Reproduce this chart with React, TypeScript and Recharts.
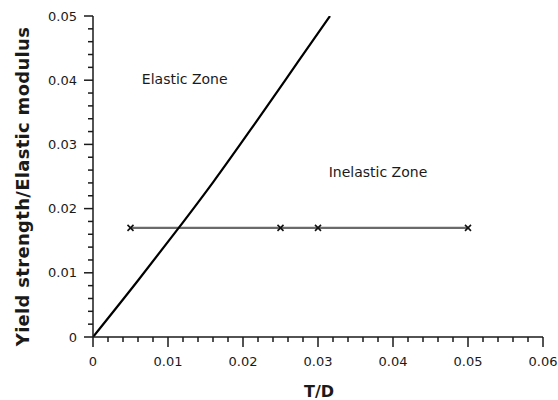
import React from "react";
import {
  LineChart,
  Line,
  XAxis,
  YAxis,
  ReferenceDot,
} from "recharts";

const FONT = "DejaVu Sans, Verdana, sans-serif";
const INK = "#1a1a1a";

// elastic limit curve
const elasticX = [0, 0.006, 0.0113, 0.016, 0.0218, 0.0273, 0.0316];
const elasticY = [0, 0.0088, 0.0168, 0.0241, 0.0336, 0.0428, 0.05];

// measured specimens, all at the same ratio
const specimenX = [0.005, 0.025, 0.03, 0.05];
const specimenY = [0.017, 0.017, 0.017, 0.017];

const xTicks = [
  0, 0.002, 0.004, 0.006, 0.008, 0.01, 0.012, 0.014, 0.016, 0.018, 0.02,
  0.022, 0.024, 0.026, 0.028, 0.03, 0.032, 0.034, 0.036, 0.038, 0.04, 0.042,
  0.044, 0.046, 0.048, 0.05, 0.052, 0.054, 0.056, 0.058, 0.06,
];
const xMajor = [0, 0.01, 0.02, 0.03, 0.04, 0.05, 0.06];

const yTicks = [
  0, 0.002, 0.004, 0.006, 0.008, 0.01, 0.012, 0.014, 0.016, 0.018, 0.02,
  0.022, 0.024, 0.026, 0.028, 0.03, 0.032, 0.034, 0.036, 0.038, 0.04, 0.042,
  0.044, 0.046, 0.048, 0.05,
];
const yMajor = [0, 0.01, 0.02, 0.03, 0.04, 0.05];

const elasticData = elasticX.map((x, i) => ({ x, y: elasticY[i] }));
const specimenData = specimenX.map((x, i) => ({ x, y: specimenY[i] }));

const isMajor = (v: number, majors: number[]) =>
  majors.some((m) => Math.abs(m - v) < 1e-9);

const fmt = (v: number) => (v === 0 ? "0" : String(v));

const XTick = (props: any) => {
  const { x, y, payload } = props;
  const major = isMajor(payload.value, xMajor);
  return (
    <g>
      <line
        x1={x}
        x2={x}
        y1={y}
        y2={y + (major ? 10 : 5)}
        stroke={INK}
        strokeWidth={1.5}
      />
      {major && (
        <text
          x={x}
          y={y + 29}
          textAnchor="middle"
          fontSize={13}
          fontFamily={FONT}
          fill={INK}
        >
          {fmt(payload.value)}
        </text>
      )}
    </g>
  );
};

const YTick = (props: any) => {
  const { x, y, payload } = props;
  const major = isMajor(payload.value, yMajor);
  return (
    <g>
      <line
        x1={x}
        x2={x - (major ? 9 : 5)}
        y1={y}
        y2={y}
        stroke={INK}
        strokeWidth={1.5}
      />
      {major && (
        <text
          x={x - 16}
          y={y + 4.5}
          textAnchor="end"
          fontSize={13}
          fontFamily={FONT}
          fill={INK}
        >
          {fmt(payload.value)}
        </text>
      )}
    </g>
  );
};

const Cross = (props: any) => {
  const { cx, cy } = props;
  if (cx == null || cy == null) return null;
  const s = 3;
  return (
    <path
      d={`M${cx - s},${cy - s}L${cx + s},${cy + s}M${cx - s},${cy + s}L${cx + s},${cy - s}`}
      stroke="#111"
      strokeWidth={1.6}
      fill="none"
    />
  );
};

export default function App() {
  return (
    <div style={{ position: "absolute", left: 0, top: 0, background: "#fff" }}>
      <LineChart
        width={558}
        height={400}
        margin={{ top: 16, right: 15, bottom: 0, left: 0 }}
      >
        <XAxis
          type="number"
          dataKey="x"
          domain={[0, 0.06]}
          ticks={xTicks}
          interval={0}
          tickSize={0}
          tickMargin={0}
          tickLine={false}
          tick={<XTick />}
          height={63}
          axisLine={{ stroke: INK, strokeWidth: 1.5 }}
          allowDataOverflow
          label={{
            content: (p: any) => {
              const vb = p.viewBox;
              return (
                <text
                  x={vb.x + vb.width / 2 + 1}
                  y={vb.y + 60}
                  textAnchor="middle"
                  fontSize={16}
                  fontWeight="bold"
                  fontFamily={FONT}
                  fill={INK}
                >
                  T/D
                </text>
              );
            },
          }}
        />
        <YAxis
          type="number"
          dataKey="y"
          domain={[0, 0.05]}
          ticks={yTicks}
          interval={0}
          tickSize={0}
          tickMargin={0}
          tickLine={false}
          tick={<YTick />}
          width={93}
          axisLine={{ stroke: INK, strokeWidth: 1.5 }}
          allowDataOverflow
          label={{
            content: (p: any) => {
              const vb = p.viewBox;
              const cx = vb.x + 22;
              const cy = vb.y + vb.height / 2 + 10;
              return (
                <text
                  x={cx}
                  y={cy}
                  transform={`rotate(-90 ${cx} ${cy})`}
                  textAnchor="middle"
                  dominantBaseline="central"
                  fontSize={18}
                  letterSpacing={0.3}
                  fontWeight="bold"
                  fontFamily={FONT}
                  fill={INK}
                >
                  Yield strength/Elastic modulus
                </text>
              );
            },
          }}
        />
        <ReferenceDot
          x={0.01223}
          y={0.0402}
          r={0}
          fill="none"
          stroke="none"
          label={{
            value: "Elastic Zone",
            position: "center",
            fontSize: 14,
            fontFamily: FONT,
            fill: INK,
          }}
        />
        <ReferenceDot
          x={0.038}
          y={0.0257}
          r={0}
          fill="none"
          stroke="none"
          label={{
            value: "Inelastic Zone",
            position: "center",
            fontSize: 14,
            fontFamily: FONT,
            fill: INK,
          }}
        />
        <Line
          data={specimenData}
          dataKey="y"
          type="linear"
          stroke="#6a6a6a"
          strokeWidth={2.2}
          dot={<Cross />}
          activeDot={false}
          isAnimationActive={false}
        />
        <Line
          data={elasticData}
          dataKey="y"
          type="monotone"
          stroke="#000"
          strokeWidth={2.2}
          dot={false}
          activeDot={false}
          isAnimationActive={false}
        />
      </LineChart>
    </div>
  );
}
